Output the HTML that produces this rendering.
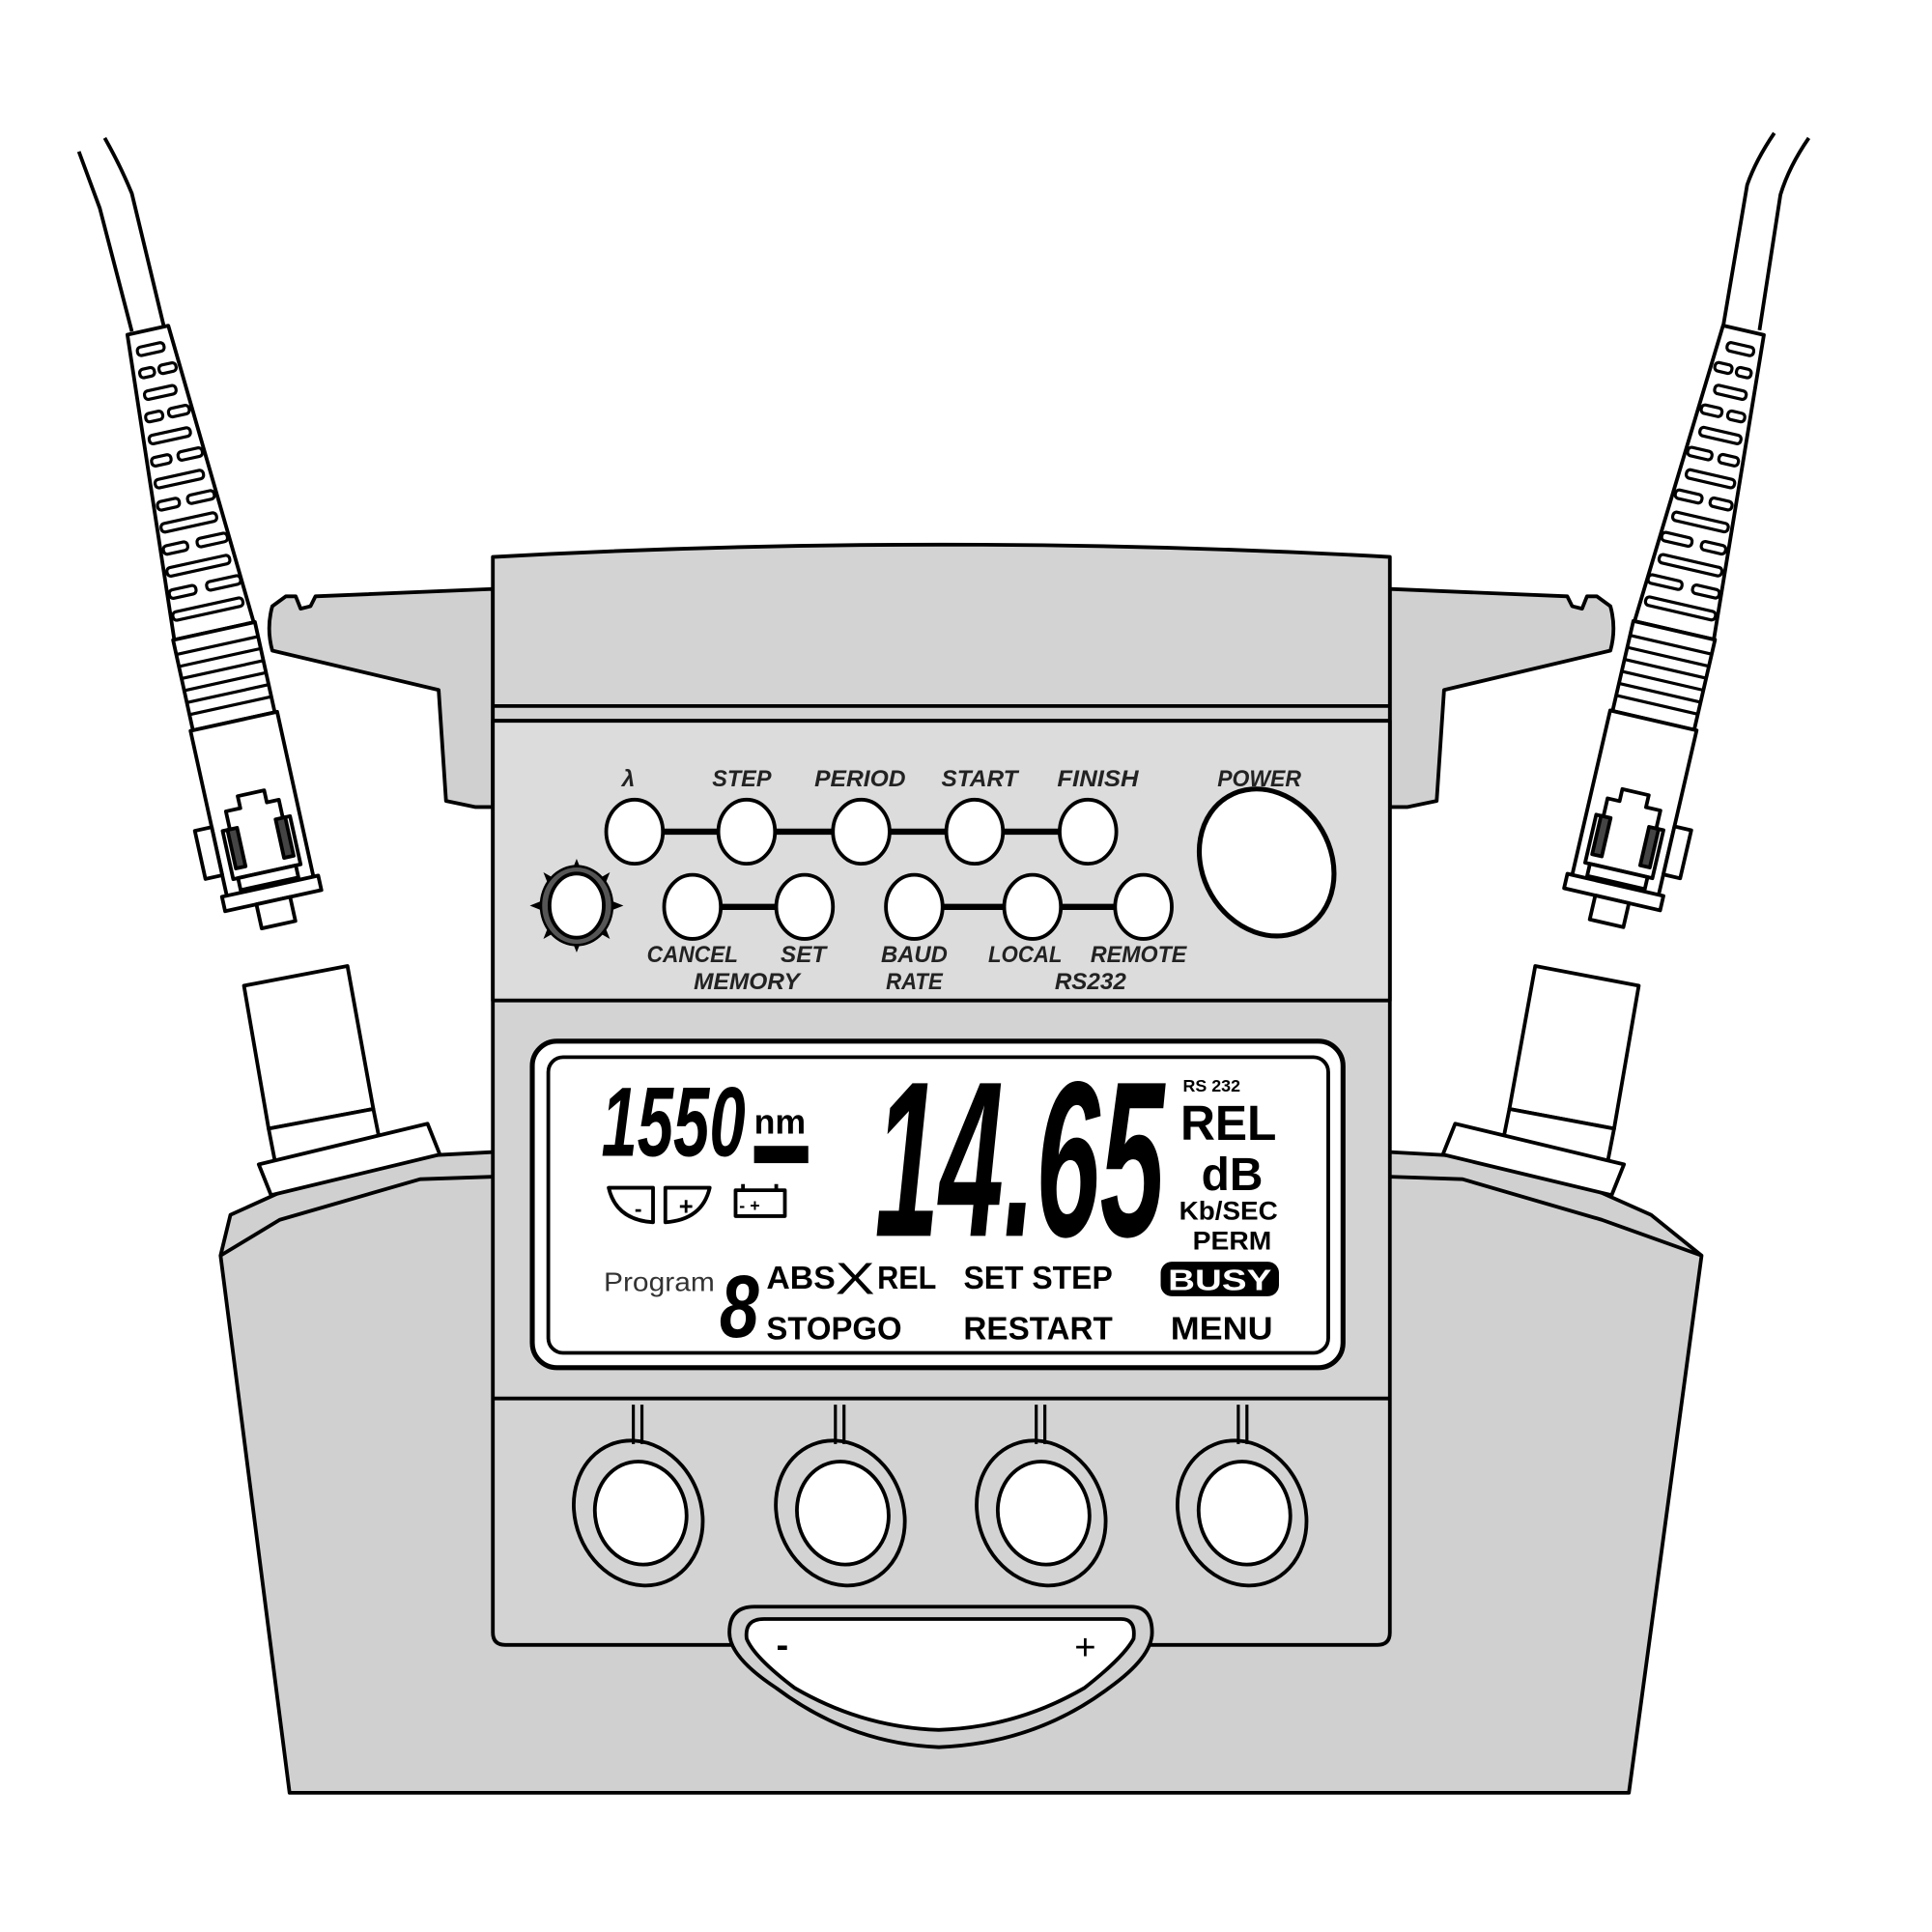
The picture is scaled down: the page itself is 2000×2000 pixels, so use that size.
<!DOCTYPE html>
<html><head><meta charset="utf-8"><style>
html,body{margin:0;padding:0;background:#fff;}
svg{display:block;}
text{font-family:"Liberation Sans",sans-serif;}
</style></head><body>
<svg width="2000" height="2000" viewBox="0 0 1568 1568" xmlns="http://www.w3.org/2000/svg">
<rect width="1568" height="1568" fill="#fff"/>
<g stroke="#000" stroke-width="3" stroke-linejoin="round" fill="none">
<path d="M64,123 Q74,150 81,169 L107,269"/>
<path d="M85,112 Q98,135 107,157 L133,265"/>
<path d="M1440,108 Q1425,130 1418,150 L1398,268"/>
<path d="M1468,112 Q1452,135 1445,158 L1428,268"/>
<path d="M187,986 L251,957 L325,939 L400,935 L1128,935 L1200,939 L1275,957 L1340,986 L1381,1019 L1322,1455 L235,1455 L179,1019 Z" fill="#d0d0d0"/>
<path d="M179,1019 L227,990 L341,957 L400,955 M1128,955 L1187,957 L1300,990 L1381,1019"/>
<polygon points="198,800 282,784 303,900 218,916" fill="#fff"/>
<polygon points="218,916 303,900 310,935 225,952" fill="#fff"/>
<polygon points="210,945 347,912 357,937 220,970" fill="#fff"/>
<polygon points="1246,784 1330,800 1310,916 1225,900" fill="#fff"/>
<polygon points="1225,900 1310,916 1303,952 1218,935" fill="#fff"/>
<polygon points="1181,912 1318,945 1308,970 1171,937" fill="#fff"/>
<path d="M221,492 L232,484 L240,484 L244,494 L252,492 L256,484 L400,478 L400,655 L386,655 L362,650 L356,560 L221,528 Q216,510 221,492 Z" fill="#d0d0d0"/>
<path d="M1307,492 L1296,484 L1288,484 L1284,494 L1276,492 L1272,484 L1128,478 L1128,655 L1142,655 L1166,650 L1172,560 L1307,528 Q1312,510 1307,492 Z" fill="#d0d0d0"/>
<path d="M400,452 Q764,432 1128,452 L1128,1325 Q1128,1335 1118,1335 L410,1335 Q400,1335 400,1325 Z" fill="#d3d3d3"/>
<line x1="400" y1="573" x2="1128" y2="573"/>
<line x1="400" y1="585" x2="1128" y2="585"/>
<path d="M400,585 L1128,585 L1128,812 L400,812 Z" fill="#dcdcdc"/>
<line x1="400" y1="1135" x2="1128" y2="1135"/>
<g stroke-width="5"><line x1="515" y1="675" x2="883" y2="675"/><line x1="562" y1="736" x2="652" y2="736"/><line x1="742" y1="736" x2="928" y2="736"/></g>
<g fill="#fff">
<ellipse cx="515" cy="675" rx="23" ry="26"/><ellipse cx="606" cy="675" rx="23" ry="26"/><ellipse cx="699" cy="675" rx="23" ry="26"/><ellipse cx="791" cy="675" rx="23" ry="26"/><ellipse cx="883" cy="675" rx="23" ry="26"/>
<ellipse cx="562" cy="736" rx="23" ry="26"/><ellipse cx="653" cy="736" rx="23" ry="26"/><ellipse cx="742" cy="736" rx="23" ry="26"/><ellipse cx="838" cy="736" rx="23" ry="26"/><ellipse cx="928" cy="736" rx="23" ry="26"/>
<ellipse cx="1028" cy="700" rx="52" ry="62" transform="rotate(-30 1028 700)" stroke-width="4"/>
</g>
<g fill="#000" stroke="none">
<polygon points="468,697 472,707 464,707"/><polygon points="468,773 472,763 464,763"/><polygon points="430,735 440,731 440,739"/><polygon points="506,735 496,731 496,739"/>
<polygon points="441,708 450,713 445,718"/><polygon points="495,708 486,713 491,718"/><polygon points="441,762 450,757 445,752"/><polygon points="495,762 486,757 491,752"/>
</g>
<ellipse cx="468" cy="735" rx="29" ry="32" fill="#555" stroke-width="2"/>
<ellipse cx="468" cy="735" rx="22" ry="26" fill="#fff"/>
<rect x="432" y="845" width="658" height="265" rx="20" fill="#fff" stroke-width="4"/>
<rect x="445" y="858" width="633" height="240" rx="12" fill="#fff" stroke-width="3"/>
<g stroke-width="2.5">
<path d="M514,1140 V1172 M521,1140 V1172 M678,1140 V1172 M685,1140 V1172 M841,1140 V1172 M848,1140 V1172 M1005,1140 V1172 M1012,1140 V1172"/>
</g>
<g>
<ellipse cx="518" cy="1228" rx="51" ry="60" transform="rotate(-22 518 1228)"/>
<ellipse cx="682" cy="1228" rx="51" ry="60" transform="rotate(-22 682 1228)"/>
<ellipse cx="845" cy="1228" rx="51" ry="60" transform="rotate(-22 845 1228)"/>
<ellipse cx="1008" cy="1228" rx="51" ry="60" transform="rotate(-22 1008 1228)"/>
<ellipse cx="520" cy="1228" rx="37" ry="42" transform="rotate(-12 520 1228)" fill="#fff"/>
<ellipse cx="684" cy="1228" rx="37" ry="42" transform="rotate(-12 684 1228)" fill="#fff"/>
<ellipse cx="847" cy="1228" rx="37" ry="42" transform="rotate(-12 847 1228)" fill="#fff"/>
<ellipse cx="1010" cy="1228" rx="37" ry="42" transform="rotate(-12 1010 1228)" fill="#fff"/>
</g>
<path d="M612,1304 L918,1304 Q935,1304 935,1325 Q935,1345 900,1370 Q840,1415 762,1418 Q690,1415 630,1370 Q592,1345 592,1325 Q592,1304 612,1304 Z" fill="#d0d0d0"/>
<path d="M620,1314 L910,1314 Q922,1314 920,1330 Q912,1345 880,1370 Q825,1402 762,1404 Q700,1402 645,1370 Q612,1345 606,1330 Q604,1314 620,1314 Z" fill="#fff"/>
<path d="M494,964 L530,964 L530,992 Q500,990 494,964 Z" stroke-width="3"/>
<path d="M540,964 L576,964 Q570,990 540,992 Z" stroke-width="3"/>
<rect x="597" y="966" width="40" height="21" stroke-width="3"/>
<path d="M603,966 V961 M630,966 V961" stroke-width="3"/>
<rect x="612" y="930" width="44" height="14" fill="#000" stroke="none"/>
<rect x="942" y="1024" width="96" height="28" rx="9" fill="#000" stroke="none"/>
</g>
<g transform="translate(120,268) rotate(-12.4)" stroke="#000" stroke-width="3" fill="#fff" stroke-linejoin="round">
<polygon points="-17,0 17,0 33,250 -33,250"/>
<g stroke-width="2.5">
<rect x="-12" y="12" width="22" height="7" rx="3"/><rect x="-14" y="30" width="12" height="7" rx="3"/><rect x="2" y="30" width="14" height="7" rx="3"/>
<rect x="-14" y="48" width="26" height="7" rx="3"/><rect x="-17" y="66" width="14" height="7" rx="3"/><rect x="2" y="66" width="17" height="7" rx="3"/>
<rect x="-18" y="84" width="34" height="7" rx="3"/><rect x="-20" y="102" width="16" height="7" rx="3"/><rect x="2" y="102" width="20" height="7" rx="3"/>
<rect x="-21" y="120" width="40" height="7" rx="3"/><rect x="-23" y="138" width="18" height="7" rx="3"/><rect x="2" y="138" width="22" height="7" rx="3"/>
<rect x="-24" y="156" width="46" height="7" rx="3"/><rect x="-26" y="174" width="20" height="7" rx="3"/><rect x="2" y="174" width="25" height="7" rx="3"/>
<rect x="-27" y="192" width="52" height="7" rx="3"/><rect x="-29" y="210" width="22" height="7" rx="3"/><rect x="2" y="210" width="28" height="7" rx="3"/>
<rect x="-30" y="228" width="58" height="7" rx="3"/>
</g>
<rect x="-34" y="250" width="68" height="75"/>
<path d="M-34,262 H34 M-34,272 H34 M-34,282 H34 M-34,292 H34 M-34,302 H34 M-34,312 H34" stroke-width="2.5"/>
<rect x="-36" y="325" width="72" height="145"/>
<rect x="-50" y="405" width="14" height="40"/>
<path d="M-10,385 H12 V395 H22 V410 H28 V450 H-28 V410 H-22 V395 H-10 Z"/>
<rect x="-24" y="410" width="8" height="32" fill="#444"/><rect x="16" y="410" width="8" height="32" fill="#444"/>
<rect x="-24" y="450" width="48" height="10"/>
<rect x="-40" y="462" width="80" height="12"/>
<rect x="-14" y="474" width="28" height="20"/>
</g>
<g transform="translate(1415,268) rotate(13) scale(-1,1)" stroke="#000" stroke-width="3" fill="#fff" stroke-linejoin="round">
<polygon points="-17,0 17,0 33,250 -33,250"/>
<g stroke-width="2.5">
<rect x="-12" y="12" width="22" height="7" rx="3"/><rect x="-14" y="30" width="12" height="7" rx="3"/><rect x="2" y="30" width="14" height="7" rx="3"/>
<rect x="-14" y="48" width="26" height="7" rx="3"/><rect x="-17" y="66" width="14" height="7" rx="3"/><rect x="2" y="66" width="17" height="7" rx="3"/>
<rect x="-18" y="84" width="34" height="7" rx="3"/><rect x="-20" y="102" width="16" height="7" rx="3"/><rect x="2" y="102" width="20" height="7" rx="3"/>
<rect x="-21" y="120" width="40" height="7" rx="3"/><rect x="-23" y="138" width="18" height="7" rx="3"/><rect x="2" y="138" width="22" height="7" rx="3"/>
<rect x="-24" y="156" width="46" height="7" rx="3"/><rect x="-26" y="174" width="20" height="7" rx="3"/><rect x="2" y="174" width="25" height="7" rx="3"/>
<rect x="-27" y="192" width="52" height="7" rx="3"/><rect x="-29" y="210" width="22" height="7" rx="3"/><rect x="2" y="210" width="28" height="7" rx="3"/>
<rect x="-30" y="228" width="58" height="7" rx="3"/>
</g>
<rect x="-34" y="250" width="68" height="75"/>
<path d="M-34,262 H34 M-34,272 H34 M-34,282 H34 M-34,292 H34 M-34,302 H34 M-34,312 H34" stroke-width="2.5"/>
<rect x="-36" y="325" width="72" height="145"/>
<rect x="-50" y="405" width="14" height="40"/>
<path d="M-10,385 H12 V395 H22 V410 H28 V450 H-28 V410 H-22 V395 H-10 Z"/>
<rect x="-24" y="410" width="8" height="32" fill="#444"/><rect x="16" y="410" width="8" height="32" fill="#444"/>
<rect x="-24" y="450" width="48" height="10"/>
<rect x="-40" y="462" width="80" height="12"/>
<rect x="-14" y="474" width="28" height="20"/>
</g>
<g font-style="italic" font-weight="600" font-size="19" fill="#222" text-anchor="middle" lengthAdjust="spacingAndGlyphs">
<text x="510" y="638">λ</text><text x="602" y="638" textLength="48" lengthAdjust="spacingAndGlyphs">STEP</text><text x="698" y="638" textLength="74" lengthAdjust="spacingAndGlyphs">PERIOD</text><text x="795" y="638" textLength="62" lengthAdjust="spacingAndGlyphs">START</text><text x="891" y="638" textLength="66" lengthAdjust="spacingAndGlyphs">FINISH</text><text x="1022" y="638" textLength="68" lengthAdjust="spacingAndGlyphs">POWER</text>
<text x="562" y="781" textLength="74" lengthAdjust="spacingAndGlyphs">CANCEL</text><text x="652" y="781">SET</text><text x="742" y="781" textLength="54" lengthAdjust="spacingAndGlyphs">BAUD</text><text x="832" y="781" textLength="60" lengthAdjust="spacingAndGlyphs">LOCAL</text><text x="924" y="781" textLength="78" lengthAdjust="spacingAndGlyphs">REMOTE</text>
<text x="606" y="803" textLength="86" lengthAdjust="spacingAndGlyphs">MEMORY</text><text x="742" y="803" textLength="46" lengthAdjust="spacingAndGlyphs">RATE</text><text x="885" y="803" textLength="58" lengthAdjust="spacingAndGlyphs">RS232</text>
</g>
<text x="710" y="1003" font-size="180" font-weight="bold" font-style="italic" textLength="235" lengthAdjust="spacingAndGlyphs">14.65</text>
<text x="488" y="938" font-size="80" font-style="italic" font-weight="bold" textLength="117" lengthAdjust="spacingAndGlyphs">1550</text>
<text x="612" y="920" font-size="28" font-weight="bold">nm</text>
<text x="515" y="987" font-size="18" font-weight="bold">-</text><text x="551" y="986" font-size="20" font-weight="bold">+</text>
<text x="600" y="983" font-size="14" font-weight="bold">- +</text>
<g font-weight="bold">
<text x="960" y="886" font-size="14">RS  232</text>
<text x="958" y="925" font-size="40" textLength="78" lengthAdjust="spacingAndGlyphs">REL</text>
<text x="975" y="966" font-size="38" textLength="50" lengthAdjust="spacingAndGlyphs">dB</text>
<text x="957" y="990" font-size="21" textLength="80" lengthAdjust="spacingAndGlyphs">Kb/SEC</text>
<text x="968" y="1014" font-size="21" textLength="64" lengthAdjust="spacingAndGlyphs">PERM</text>
<text x="622" y="1046" font-size="26" textLength="56" lengthAdjust="spacingAndGlyphs">ABS</text>
<text x="678" y="1050" font-size="36" font-weight="normal" textLength="32" lengthAdjust="spacingAndGlyphs">X</text>
<text x="712" y="1046" font-size="26" textLength="48" lengthAdjust="spacingAndGlyphs">REL</text>
<text x="782" y="1046" font-size="26" textLength="121" lengthAdjust="spacingAndGlyphs">SET STEP</text>
<text x="948" y="1047" font-size="24" fill="#fff" textLength="84" lengthAdjust="spacingAndGlyphs">BUSY</text>
<text x="622" y="1087" font-size="26" textLength="110" lengthAdjust="spacingAndGlyphs">STOPGO</text>
<text x="782" y="1087" font-size="26" textLength="121" lengthAdjust="spacingAndGlyphs">RESTART</text>
<text x="950" y="1087" font-size="26" textLength="83" lengthAdjust="spacingAndGlyphs">MENU</text>
</g>
<text x="490" y="1048" font-size="22" fill="#333" textLength="90" lengthAdjust="spacingAndGlyphs">Program</text>
<text x="584" y="1085" font-size="72" font-style="italic" font-weight="bold" textLength="32" lengthAdjust="spacingAndGlyphs">8</text>
<text x="630" y="1345" font-size="30" font-weight="bold">-</text>
<text x="872" y="1347" font-size="30">+</text>
</svg>
</body></html>
